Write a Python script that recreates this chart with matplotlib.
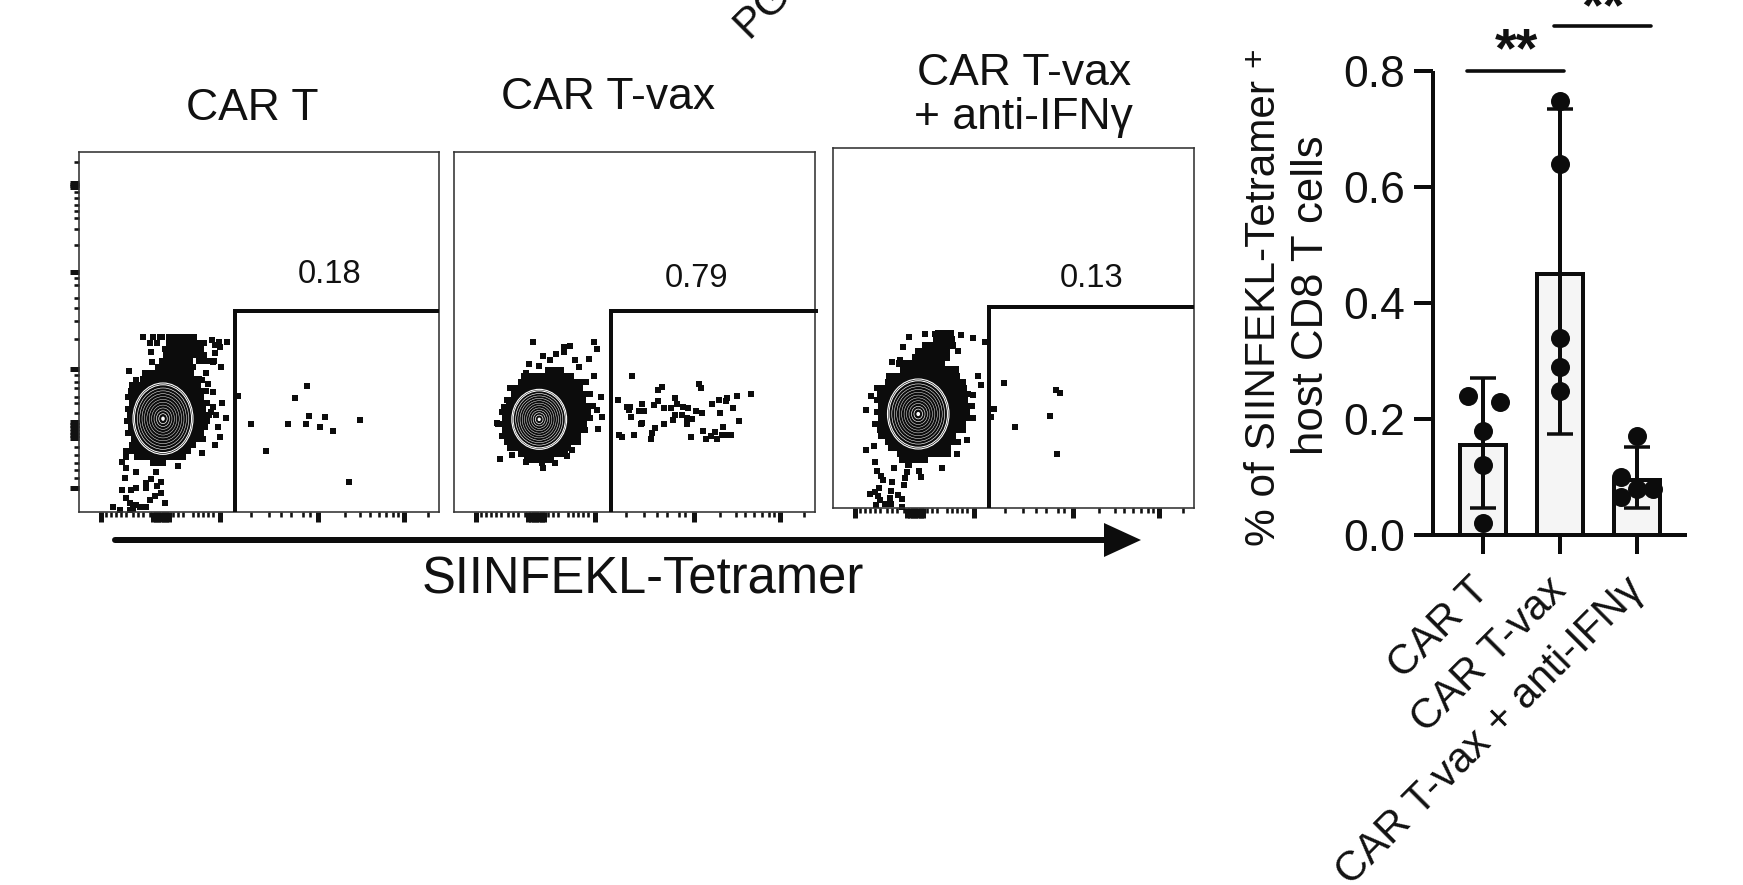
import matplotlib
matplotlib.use('Agg')
import matplotlib.pyplot as plt
from matplotlib.lines import Line2D
from matplotlib.patches import Ellipse, Polygon
from matplotlib.transforms import ScaledTranslation

plt.rcParams['font.family'] = ['Liberation Sans', 'DejaVu Sans']
plt.rcParams['mathtext.default'] = 'regular'

W, H = 1743, 885
INK = '#111111'

# flow panels: channel values on a 0-1080 scale
panel_titles = ['CAR T', 'CAR T-vax', 'CAR T-vax\n+ anti-IFNγ']
gate_labels = ['0.18', '0.79', '0.13']
gate_x = [468, 470, 468]
gate_y = [603, 603, 604]

p1_events_x = [193, 150, 427, 444, 516, 562, 626, 647, 685, 690, 681, 724, 737, 762, 843, 809, 477, 430, 442, 409, 298, 369,
               128, 141, 172, 137, 230, 247, 217, 202, 129, 157, 170, 202, 234, 247, 212, 227, 257, 142, 152, 172, 102, 122,
               162, 202, 182, 152, 212, 217, 220, 407, 422, 409, 382, 370, 387, 402, 402, 417, 424, 402, 242,
               360, 375, 390, 405, 222, 235, 250, 400, 420, 395, 412, 142, 170]
p1_events_y = [524, 422, 434, 511, 264, 184, 264, 341, 379, 289, 264, 256, 286, 243, 277, 90, 349, 328, 281, 201, 137, 176,
               149, 133, 120, 103, 120, 91, 98, 86, 65, 66, 71, 71, 78, 56, 36, 48, 26, 41, 28, 21, 14, 6,
               8, 14, 16, 6, 506, 481, 451, 501, 496, 476, 416, 396, 384, 361, 316, 256, 224, 451, 524,
               453, 453, 453, 453, 525, 507, 525, 515, 510, 300, 290, 165, 395]
p1_rows_y = [525, 507, 489, 471, 453, 435, 417, 399, 381, 363, 345, 327, 309, 291, 273, 255, 237, 219, 201, 183, 165, 147]
p1_rows_left = [262, 262, 250, 252, 240, 227, 190, 182, 150, 147, 138, 150, 138, 144, 134, 146, 138, 155, 150, 132, 165, 212]
p1_rows_right = [355, 385, 376, 385, 342, 352, 345, 370, 365, 390, 376, 392, 382, 398, 392, 388, 376, 382, 352, 335, 320, 262]

p2_events_x = [236, 419, 428, 346, 330, 330, 306, 287, 266, 405, 363, 223, 254, 373, 216, 418, 138, 173, 214, 263, 266, 302,
               338, 353, 431, 444, 440, 428, 130, 150,
               492, 533, 518, 528, 523, 563, 553, 568, 530, 563, 558, 598, 610, 610, 623, 628, 648, 661, 666, 685, 700, 660,
               656, 683, 698, 698, 713, 725, 741, 733, 738, 772, 793, 796, 815, 818, 848, 890, 835, 852, 806, 746, 780, 770,
               754, 788, 803, 818, 828, 708, 628, 600, 593, 588, 538, 495, 504]
p2_events_y = [510, 510, 489, 498, 496, 481, 475, 456, 468, 458, 456, 443, 438, 434, 416, 408, 158, 171, 150, 146, 133, 146,
               168, 186, 248, 286, 346, 306, 268, 316,
               336, 408, 316, 316, 306, 324, 303, 303, 286, 268, 264, 320, 332, 366, 374, 311, 311, 341, 324, 316, 311, 291,
               276, 291, 281, 264, 278, 303, 298, 384, 371, 324, 336, 298, 334, 342, 349, 353, 311, 272, 256, 243, 239, 228,
               218, 218, 231, 231, 231, 226, 264, 251, 238, 218, 231, 231, 226]
p2_rows_y = [426, 408, 390, 372, 354, 336, 318, 300, 282, 264, 246, 228, 210, 192, 174, 156]
p2_rows_left = [273, 200, 190, 160, 170, 150, 155, 135, 145, 122, 144, 135, 150, 160, 190, 210]
p2_rows_right = [330, 360, 405, 385, 415, 395, 425, 410, 415, 398, 400, 380, 380, 350, 340, 300]

p3_events_x = [228, 208, 275, 305, 382, 418, 455, 375, 178, 200, 433, 442, 420, 483, 472, 513, 543, 649, 667, 680, 670, 325,
               400, 372, 100, 123, 100, 115, 127, 132, 145, 150, 182, 222, 215, 213, 178, 257, 263, 138, 110, 125, 173, 195,
               135, 140, 170, 205, 130, 155, 175, 205]
p3_events_y = [514, 483, 523, 523, 518, 510, 497, 472, 438, 443, 395, 370, 340, 298, 273, 374, 242, 276, 353, 344, 162, 119,
               205, 162, 175, 187, 293, 335, 137, 111, 95, 85, 119, 107, 90, 68, 77, 111, 93, 60, 43, 47, 52, 40,
               35, 23, 30, 27, 10, 13, 13, 3]
p3_rows_y = [523, 505, 487, 469, 451, 433, 415, 397, 379, 361, 343, 325, 307, 289, 271, 253, 235, 217, 199, 181, 163, 145, 129]
p3_rows_left = [305, 298, 265, 245, 235, 188, 200, 160, 155, 122, 132, 122, 135, 124, 136, 118, 132, 134, 156, 164, 192, 198, 215]
p3_rows_right = [362, 365, 368, 350, 350, 334, 378, 380, 398, 400, 412, 404, 426, 410, 428, 398, 398, 368, 382, 354, 352, 284, 235]

# contour rings of the main population: centre and outer radii
ring_cx = [252, 255, 255]
ring_cy = [280, 278, 282]
ring_rx = [90, 82, 92]
ring_ry = [107, 90, 105]
ring_levels = [1.0, 0.95, 0.86, 0.78, 0.7, 0.62, 0.54, 0.46, 0.38, 0.3, 0.22, 0.14]
ring_widths = [1.1, 1.0, 0.6, 0.5, 0.5, 0.45, 0.45, 0.45, 0.45, 0.5, 0.6, 0.7]

# biexponential axis ticks
flow_xticks_major = [67, 222, 230, 238, 246, 254, 262, 270, 422, 717, 974]
flow_xticks_minor = [82, 97, 112, 127, 142, 162, 177, 192, 212, 282, 297, 312, 342, 357, 372, 387, 402,
                     515, 569, 607, 637, 672, 692, 797, 844, 872, 899, 922, 942, 957, 1047]
flow_yticks_major = [981, 975, 987, 721, 428, 71, 221, 231, 241, 251, 261, 271]
flow_yticks_minor = [1051, 961, 941, 921, 903, 881, 849, 801, 701, 681, 641, 611, 574, 519, 411, 391, 371, 346, 326, 296,
                     196, 171, 146, 126, 101]

# bar chart
groups = ['CAR T', 'CAR T-vax', 'CAR T-vax + anti-IFNγ']
bar_means = [0.155, 0.45, 0.095]
err_upper = [0.27, 0.734, 0.152]
err_lower = [0.046, 0.174, 0.046]
yticks = [0.0, 0.2, 0.4, 0.6, 0.8]
points_x = [-0.195, 0.22, 0, 0, 0, 1, 1, 1, 1, 1, 2, 1.79, 2, 2.21, 1.79]
points_y = [0.24, 0.23, 0.18, 0.12, 0.02, 0.749, 0.64, 0.34, 0.29, 0.249, 0.17, 0.10, 0.08, 0.08, 0.065]
sig_x0 = [-0.21, 0.92]
sig_x1 = [1.05, 2.18]
sig_y = [0.80, 0.8776]


def px(n):
    return n * 0.72


def add_axes_px(left, top, right, bottom):
    return fig.add_axes([left / W, 1 - bottom / H, (right - left) / W, (bottom - top) / H])


def text_px(x, y, s, size, rotation=0, ha='center', **kw):
    fig.text(x / W, 1 - y / H, s, fontsize=size, rotation=rotation, ha=ha, va='baseline',
             rotation_mode='anchor', color=INK, **kw)


fig = plt.figure(figsize=(W / 100, H / 100), dpi=100, facecolor='white')

boxes = [(79, 152, 439, 512), (454, 152, 815, 512), (833, 148, 1194, 508)]
events = [(p1_events_x, p1_events_y), (p2_events_x, p2_events_y), (p3_events_x, p3_events_y)]
rows = [(p1_rows_y, p1_rows_left, p1_rows_right), (p2_rows_y, p2_rows_left, p2_rows_right),
        (p3_rows_y, p3_rows_left, p3_rows_right)]
label_pos = [(330, 283), (696, 287), (1092, 287)]

for i, box in enumerate(boxes):
    ax = add_axes_px(*box)
    ax.set_xlim(0, 1080)
    ax.set_ylim(0, 1080)
    for s in ax.spines.values():
        s.set_linewidth(px(1.6))
        s.set_color('#333333')

    ry, rl, rr = rows[i]
    ax.barh(ry, [b - a for a, b in zip(rl, rr)], left=rl, height=19, color='#0c0c0c', linewidth=0, zorder=2)
    ax.scatter(events[i][0], events[i][1], marker='s', s=18, color='#0c0c0c', linewidths=0, zorder=2, clip_on=False)

    for lev, lw in zip(ring_levels, ring_widths):
        ax.add_patch(Ellipse((ring_cx[i], ring_cy[i]), 2 * ring_rx[i] * lev, 2 * ring_ry[i] * lev,
                             fill=False, edgecolor='white', linewidth=px(lw), zorder=3))
    ax.add_patch(Ellipse((ring_cx[i], ring_cy[i]), 2 * ring_rx[i] * 0.06, 2 * ring_ry[i] * 0.06,
                         facecolor='white', edgecolor='none', zorder=3))

    # gate
    ax.plot([gate_x[i], gate_x[i], 1090 if i == 1 else 1080], [0, gate_y[i], gate_y[i]], color='#0c0c0c',
            linewidth=px(4), solid_joinstyle='miter', solid_capstyle='butt', clip_on=False, zorder=4)

    ax.set_xticks(flow_xticks_major)
    ax.set_xticks(flow_xticks_minor, minor=True)
    ax.tick_params(axis='x', which='major', length=px(10), width=px(5), labelbottom=False, color='#111111')
    ax.tick_params(axis='x', which='minor', length=px(5), width=px(2.6), color='#111111')
    if i == 0:
        ax.set_yticks(flow_yticks_major)
        ax.set_yticks(flow_yticks_minor, minor=True)
        ax.tick_params(axis='y', which='major', length=px(9), width=px(5), labelleft=False, color='#111111')
        ax.tick_params(axis='y', which='minor', length=px(5), width=px(2.6), color='#111111')
    else:
        ax.set_yticks([])

    text_px(label_pos[i][0], label_pos[i][1], gate_labels[i], 23.5)

# panel titles
text_px(252, 120, panel_titles[0], 32)
text_px(608, 109, panel_titles[1], 32)
line1, line2 = panel_titles[2].split('\n')
text_px(1024, 85, line1, 32)
text_px(1023, 129, line2, 32)

# cut off at the top edge of the figure
text_px(748, 39, 'PG', 31, rotation=45, ha='left')

# arrow under the flow panels
fig.add_artist(Line2D([115 / W, 1106 / W], [1 - 540 / H, 1 - 540 / H], color='#0c0c0c',
                      linewidth=px(6), solid_capstyle='round'))
fig.add_artist(Polygon([[1104 / W, 1 - 523 / H], [1141 / W, 1 - 540 / H], [1104 / W, 1 - 557 / H]],
                       closed=True, facecolor='#0c0c0c', edgecolor='none', transform=fig.transFigure))
text_px(643, 594, 'SIINFEKL-Tetramer', 36.5)

# bar chart
ax = add_axes_px(1433, 71, 1687, 535)
ax.set_xlim(-0.649, 2.649)
ax.set_ylim(0, 0.8)
ax.patch.set_alpha(0)
for s in ['top', 'right']:
    ax.spines[s].set_visible(False)
for s in ['left', 'bottom']:
    ax.spines[s].set_linewidth(px(4))
    ax.spines[s].set_color('#0c0c0c')
    ax.spines[s].set_capstyle('butt')

ax.bar(range(3), bar_means, width=0.59, facecolor='#f5f5f5', edgecolor='#0c0c0c', linewidth=px(4), zorder=2)
err = [[m - l for m, l in zip(bar_means, err_lower)], [u - m for m, u in zip(bar_means, err_upper)]]
ax.errorbar(range(3), bar_means, yerr=err, fmt='none', ecolor='#0c0c0c', elinewidth=px(4), capsize=px(13.5),
            capthick=px(3.5), zorder=3, clip_on=False)
ax.scatter(points_x, points_y, s=px(19) ** 2, color='#0c0c0c', linewidths=0, zorder=4, clip_on=False)

ax.set_yticks(yticks)
ax.set_yticklabels(['%.1f' % v for v in yticks], fontsize=32, color=INK)
ax.tick_params(axis='y', length=px(19), width=px(4), pad=px(9), color='#0c0c0c')
ax.set_xticks(range(3))
ax.set_xticklabels(groups, rotation=45, ha='right', rotation_mode='anchor', fontsize=30, color=INK)
ax.tick_params(axis='x', length=px(19), width=px(4), pad=px(11), color='#0c0c0c')
label_shift = ScaledTranslation(-14 / 100, -5 / 100, fig.dpi_scale_trans)
for lab in ax.get_xticklabels():
    lab.set_transform(lab.get_transform() + label_shift)

for x0, x1, y in zip(sig_x0, sig_x1, sig_y):
    ax.plot([x0, x1], [y, y], color='#0c0c0c', linewidth=px(3.6), clip_on=False, solid_capstyle='round')
text_px(1516, 66, '**', 40, fontweight='bold')
text_px(1603, 23, '**', 40, fontweight='bold')

text_px(1275, 313, '% of SIINFEKL-Tetramer', 30.5, rotation=90)
text_px(1263, 57, '+', 24, rotation=90)
text_px(1323, 295, 'host CD8 T cells', 31.5, rotation=90)

fig.savefig('out.png', dpi=100, facecolor='white')
